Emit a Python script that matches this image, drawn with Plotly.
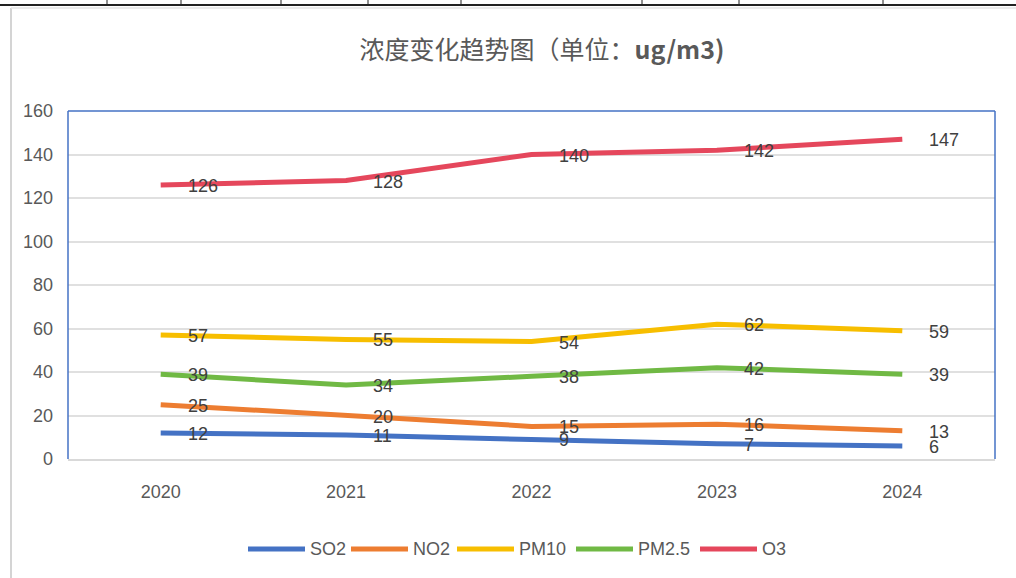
import plotly.graph_objects as go

years = ["2020", "2021", "2022", "2023", "2024"]
so2 = [12, 11, 9, 7, 6]
no2 = [25, 20, 15, 16, 13]
pm10 = [57, 55, 54, 62, 59]
pm25 = [39, 34, 38, 42, 39]
o3 = [126, 128, 140, 142, 147]
series_names = ["SO2", "NO2", "PM10", "PM2.5", "O3"]
series_values = [so2, no2, pm10, pm25, o3]
colors = ["#4472C4", "#ED7D31", "#F7BE00", "#70B944", "#E5475C"]
y_ticks = [0, 20, 40, 60, 80, 100, 120, 140, 160]

W, H = 1016, 578
L, R, T, B = 68, 21, 111, 119
FONT = "Liberation Sans, Arial"

fig = go.Figure()
for name, vals, col in zip(series_names, series_values, colors):
    fig.add_trace(go.Scatter(
        x=list(range(len(years))), y=vals, name=name, mode="lines",
        line=dict(color=col, width=5), showlegend=False,
    ))
    for i, yv in enumerate(vals):
        fig.add_annotation(
            x=i, y=yv, text=str(yv), showarrow=False,
            xanchor="left", yanchor="middle", xshift=25, yshift=-1,
            font=dict(family=FONT, size=18, color="#404040"),
        )


def px(x):
    return (x - L) / (W - L - R)


def py(y):
    return 1 - (y - T) / (H - T - B)


fig.update_layout(
    width=W, height=H,
    margin=dict(l=L, r=R, t=T, b=B),
    paper_bgcolor="white", plot_bgcolor="white",
    title=dict(
        text="浓度变化趋势图（单位：<b>ug/m3)</b>",
        x=px(542), xanchor="center", y=1 - 50 / H, yanchor="middle",
        xref="paper",
        font=dict(family="Noto Sans CJK SC", size=25, color="#595959"),
    ),
    showlegend=False,
    xaxis=dict(
        range=[-0.5, 4.5], tickvals=list(range(len(years))), ticktext=years,
        showgrid=False, showline=True, linecolor="#D9D9D9", linewidth=1.5,
        zeroline=False, ticks="", ticklabelstandoff=16,
        tickfont=dict(family=FONT, size=18, color="#595959"),
    ),
    yaxis=dict(
        range=[0, 160], tickvals=y_ticks,
        showgrid=True, gridcolor="#E0E0E0", gridwidth=1.5,
        zeroline=False, showline=False, ticks="", ticklabelstandoff=14,
        tickfont=dict(family=FONT, size=18, color="#595959"),
    ),
)

# custom legend (long line symbols like the reference)
legend_x = [248, 351, 457, 576, 700]
legend_y = 549
seg = 57
for name, col, lx in zip(series_names, colors, legend_x):
    fig.add_shape(type="line", xref="paper", yref="paper",
                  x0=px(lx), x1=px(lx + seg), y0=py(legend_y), y1=py(legend_y),
                  line=dict(color=col, width=5))
    fig.add_annotation(xref="paper", yref="paper", x=px(lx + seg + 3), y=py(legend_y),
                       text=name, showarrow=False, xanchor="left", yanchor="middle",
                       font=dict(family=FONT, size=18, color="#595959"))

# blue chart-area outline (top, left, right)
for x0, y0, x1, y1 in [(0, 1, 1, 1), (0, 0, 0, 1), (1, 0, 1, 1)]:
    fig.add_shape(type="line", xref="paper", yref="paper", x0=x0, y0=y0, x1=x1, y1=y1,
                  line=dict(color="#4472C4", width=1.5), layer="above")

# page artifacts: table line at top and light frame at left
fig.add_shape(type="line", xref="paper", yref="paper", x0=px(0), x1=px(W), y0=py(5), y1=py(5),
              line=dict(color="#222222", width=2))
for tx in [107, 181, 281, 368, 461, 642, 739, 883]:
    fig.add_shape(type="line", xref="paper", yref="paper", x0=px(tx), x1=px(tx), y0=py(0), y1=py(5),
                  line=dict(color="#222222", width=1))
fig.add_shape(type="line", xref="paper", yref="paper", x0=px(11), x1=px(11), y0=py(8), y1=py(H),
              line=dict(color="#D4D4D4", width=2))
fig.add_shape(type="line", xref="paper", yref="paper", x0=px(11), x1=px(W), y0=py(8), y1=py(8),
              line=dict(color="#E4E4E4", width=1.5))

fig.write_html("out.html", config={"displayModeBar": False},
               post_script="document.body.style.margin='0';document.body.style.overflow='hidden';")
